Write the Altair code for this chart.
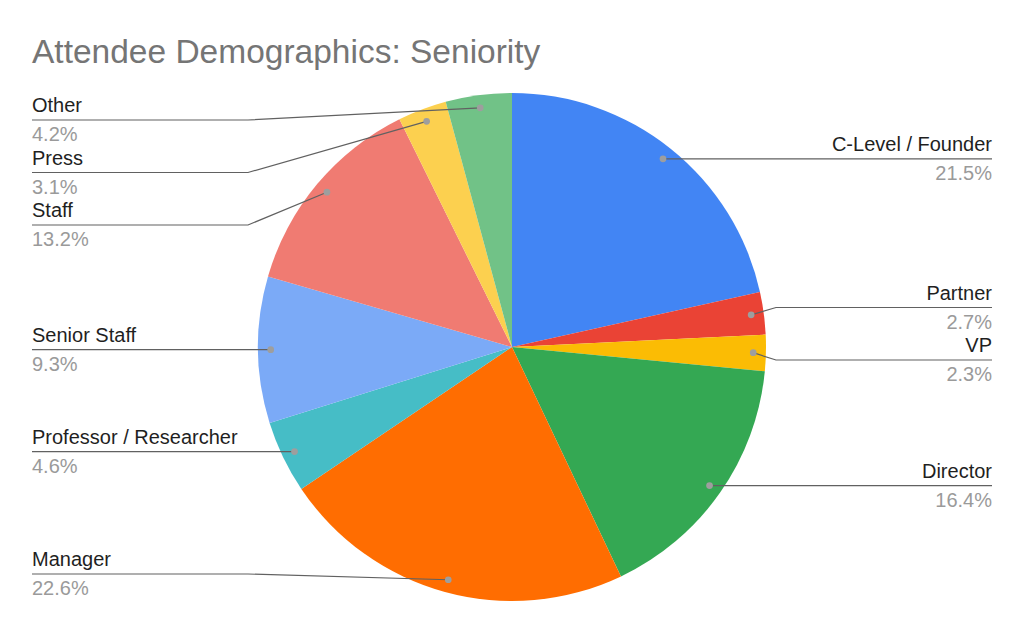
import math
import pandas as pd
import altair as alt

# ---- data ----
categories = ["C-Level / Founder", "Partner", "VP", "Director", "Manager",
              "Professor / Researcher", "Senior Staff", "Staff", "Press", "Other"]
shares = [21.5, 2.7, 2.3, 16.4, 22.6, 4.6, 9.3, 13.2, 3.1, 4.2]
colors = ["#4285F4", "#EA4335", "#FBBC04", "#34A853", "#FF6D01",
          "#46BDC6", "#7BAAF7", "#F07B72", "#FCD04F", "#71C287"]
title_text = "Attendee Demographics: Seniority"

# ---- layout (page pixel coordinates) ----
W, H = 1008, 547
PAD_TOP = 70
X0, Y0 = 8, 8 + PAD_TOP
CX, CY, R = 512, 347, 254
DOT_R = 0.95 * R
ELBOW = R + 10
LEFT_X, RIGHT_X = 32, 992
GAP, LO, HI = 52.5, 120, 574
FONT = "Liberation Sans"

total = sum(shares)
rows = []
cum = 0.0
for i, (c, v) in enumerate(zip(categories, shares)):
    mid = (cum + v / 2) / total * 2 * math.pi
    cum += v
    rows.append(dict(idx=i, category=c, share=v,
                     pct=f"{v:.1f}%",
                     dot_x=CX + DOT_R * math.sin(mid),
                     dot_y=CY - DOT_R * math.cos(mid),
                     side="right" if mid < math.pi else "left"))


def spread(items):
    items = sorted(items, key=lambda r: r["dot_y"])
    clusters = [[it] for it in items]

    def place(cl):
        n = len(cl)
        center = sum(it["dot_y"] for it in cl) / n
        start = center - GAP * (n - 1) / 2
        start = max(start, LO)
        start = min(start, HI - GAP * (n - 1))
        return start

    merged = True
    while merged:
        merged = False
        for k in range(len(clusters) - 1):
            a, b = clusters[k], clusters[k + 1]
            end_a = place(a) + GAP * (len(a) - 1)
            if place(b) < end_a + GAP:
                clusters[k] = a + b
                del clusters[k + 1]
                merged = True
                break
    for cl in clusters:
        s = place(cl)
        for j, it in enumerate(cl):
            it["ly"] = s + GAP * j


spread([r for r in rows if r["side"] == "left"])
spread([r for r in rows if r["side"] == "right"])

line_rows = []
for r in rows:
    if r["side"] == "left":
        lx, ex = LEFT_X, CX - ELBOW
    else:
        lx, ex = RIGHT_X, CX + ELBOW
    r["lx"] = lx
    r["name_y"] = r["ly"] - 8
    r["pct_y"] = r["ly"] + 21
    line_rows += [dict(category=r["category"], seq=0, x=lx, y=r["ly"]),
                  dict(category=r["category"], seq=1, x=ex, y=r["ly"]),
                  dict(category=r["category"], seq=2, x=r["dot_x"], y=r["dot_y"])]

df = pd.DataFrame(rows)
lines_df = pd.DataFrame(line_rows)

xs = alt.Scale(domain=[X0, X0 + W], nice=False, zero=False)
ys = alt.Scale(domain=[Y0, Y0 + H], nice=False, zero=False, reverse=True)

pie = alt.Chart(df).mark_arc(outerRadius=R).encode(
    theta=alt.Theta("share:Q", stack=True),
    color=alt.Color("category:N", scale=alt.Scale(domain=categories, range=colors), legend=None),
    order=alt.Order("idx:Q"),
    x=alt.value(CX - X0),
    y=alt.value(CY - Y0),
)

lines = alt.Chart(lines_df).mark_line(color="#616161", strokeWidth=1.2).encode(
    x=alt.X("x:Q", scale=xs, axis=None),
    y=alt.Y("y:Q", scale=ys, axis=None),
    detail="category:N",
    order="seq:Q",
)

dots = alt.Chart(df).mark_circle(size=45, color="#9e9e9e", opacity=1).encode(
    x=alt.X("dot_x:Q", scale=xs, axis=None),
    y=alt.Y("dot_y:Q", scale=ys, axis=None),
)

layers = [pie, lines, dots]
for side, align in (("left", "left"), ("right", "right")):
    sub = alt.Chart(df).transform_filter(alt.datum.side == side)
    layers.append(sub.mark_text(align=align, baseline="alphabetic", font=FONT,
                                fontSize=20, color="#1f1f1f").encode(
        x=alt.X("lx:Q", scale=xs, axis=None),
        y=alt.Y("name_y:Q", scale=ys, axis=None),
        text="category:N"))
    layers.append(sub.mark_text(align=align, baseline="alphabetic", font=FONT,
                                fontSize=20, color="#9a9a9a").encode(
        x=alt.X("lx:Q", scale=xs, axis=None),
        y=alt.Y("pct_y:Q", scale=ys, axis=None),
        text="pct:N"))

chart = alt.layer(*layers).properties(
    width=W, height=H,
    title=alt.Title(title_text, anchor="start", font=FONT, fontSize=33.5,
                    fontWeight="normal", color="#757575", dx=24, dy=31, offset=13,
                    baseline="alphabetic"),
    padding={"left": 0, "right": 0, "top": PAD_TOP, "bottom": 0},
    autosize=alt.AutoSizeParams(type="none"),
).configure_view(stroke=None)

chart.save("out.html", embed_options={"renderer": "svg", "actions": False})
